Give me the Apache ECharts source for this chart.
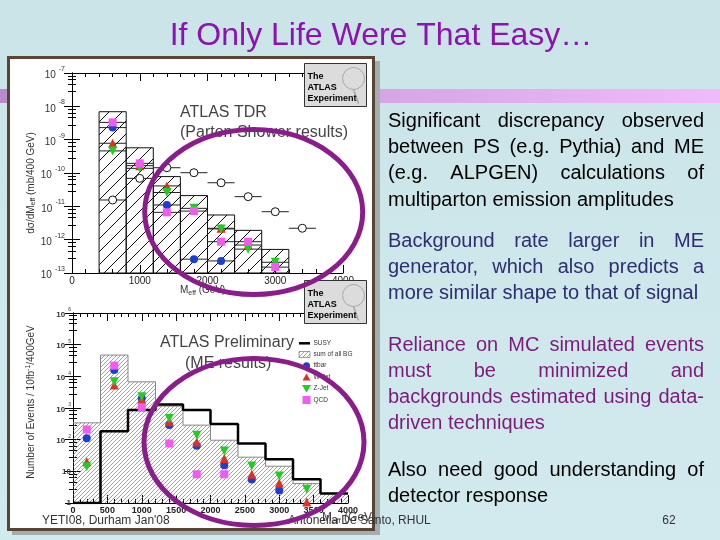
<!DOCTYPE html>
<html>
<head>
<meta charset="utf-8">
<script src="https://cdn.jsdelivr.net/npm/echarts@6/dist/echarts.min.js"></script>
<style>
  html, body { margin: 0; padding: 0; background: #cce6ea; }
  #chart { width: 720px; height: 540px; }
</style>
</head>
<body>
<div id="chart"></div>
<script>
// ---- upper panel: ATLAS TDR (parton shower) ----
const tdrEdges = [400, 800, 1200, 1600, 2000, 2400, 2800, 3200];
const tdrSumBG = [6.9e-9, 5.7e-10, 7.8e-11, 2.1e-11, 5.5e-12, 1.9e-12, 5.1e-13];
const tdrMass = [600, 1000, 1400, 1800, 2200, 2600, 3000];
const tdrTtbar = [2.3e-9, null, 1.1e-11, 2.6e-13, 2.3e-13, null, null];
const tdrWjet = [7.8e-10, 1.66e-10, 4.1e-11, null, 2.2e-12, 6.9e-13, null];
const tdrZjet = [4.6e-10, 1.38e-10, 2.6e-11, 8.7e-12, 2.1e-12, 5.2e-13, 2.1e-13];
const tdrQcd = [3.3e-9, 1.95e-10, 6.6e-12, 7.2e-12, 8.7e-13, 8.7e-13, 1.5e-13];
const tdrSusyMass = [600, 1000, 1400, 1800, 2200, 2600, 3000, 3400];
const tdrSusy = [1.55e-11, 6.9e-11, 1.44e-10, 1.02e-10, 5.1e-11, 1.95e-11, 6.9e-12, 2.2e-12];

// ---- lower panel: ATLAS preliminary (matrix element) ----
const meEdges = [0, 400, 800, 1200, 1600, 2000, 2400, 2800, 3200, 3600, 4000];
const meSumBG = [340, 47000, 6700, 1150, 288, 96, 28, 14.5, 4.1, 2.0];
const meSusy = [1, 186, 860, 1300, 860, 310, 76, 24, 5.6, 2.0];
const meMass = [200, 600, 1000, 1400, 1800, 2200, 2600, 3000, 3400];
const meTtbar = [110, 15800, 2000, 288, 64, 15.6, 5.5, 2.5, null];
const meWjet = [20, 5300, 1900, 365, 85, 25.5, 8.1, 4.3, 1.07];
const meZjet = [14, 6700, 2250, 470, 138, 44, 14.8, 7.1, 2.7];
const meQcd = [210, 21800, 1040, 76, 8.1, 8.1, null, null, null];
const meLegend = ['SUSY', 'sum of all BG', 'ttbar', 'W-Jet', 'Z-Jet', 'QCD'];

const C_TT = '#1c3ed2', C_W = '#de3220', C_Z = '#22cc22', C_QCD = '#f25af2';
const FONT = 'Liberation Sans';

function hatch(step, color, width) {
  const c = document.createElement('canvas');
  c.width = c.height = step;
  const g = c.getContext('2d');
  g.strokeStyle = color;
  g.lineWidth = width;
  g.beginPath();
  for (let k = -1; k <= 1; k++) {
    g.moveTo(k * step, step);
    g.lineTo(k * step + step, 0);
  }
  g.stroke();
  return { image: c, repeat: 'repeat' };
}
const hatchTop = hatch(13, '#111', 1);
const hatchBottom = hatch(4, '#7a7a7a', 0.7);

function pairs(xs, ys) {
  const out = [];
  xs.forEach((x, i) => { if (ys[i] != null) out.push([x, ys[i]]); });
  return out;
}
function bins(edges, vals) {
  return vals.map((v, i) => [edges[i], edges[i + 1], v]);
}
function steps(edges, vals) {
  const out = vals.map((v, i) => [edges[i], v]);
  out.push([edges[edges.length - 1], vals[vals.length - 1]]);
  return out;
}
function histItem(fill, stroke, floor) {
  return function (params, api) {
    const a = api.coord([api.value(0), api.value(2)]);
    const b = api.coord([api.value(1), floor]);
    return {
      type: 'rect',
      shape: { x: a[0], y: a[1], width: b[0] - a[0], height: b[1] - a[1] },
      style: { fill: fill, stroke: stroke || null, lineWidth: stroke ? 1 : 0 }
    };
  };
}
const halfBin = (tdrEdges[1] - tdrEdges[0]) / 2;
function xErr(withCircle) {
  return function (params, api) {
    const x = api.value(0), y = api.value(1);
    const l = api.coord([x - halfBin, y]), r = api.coord([x + halfBin, y]), c = api.coord([x, y]);
    const kids = [{ type: 'line', shape: { x1: l[0], y1: l[1], x2: r[0], y2: r[1] }, style: { stroke: '#222', lineWidth: 1 } }];
    if (withCircle) kids.push({ type: 'circle', shape: { cx: c[0], cy: c[1], r: 4 }, style: { fill: '#fff', stroke: '#111', lineWidth: 1 } });
    return { type: 'group', children: kids };
  };
}

const supStyle = (size, pad) => ({ fontSize: size, color: '#333', fontFamily: FONT, padding: [0, 0, pad, 3], verticalAlign: 'top' });

function xAxis(grid, pos, interval, labels, fs) {
  return {
    type: 'value', gridIndex: grid, position: pos, min: 0, max: 4000, interval: interval,
    axisLine: { show: true, onZero: false, lineStyle: { color: '#000', width: 1 } },
    axisTick: { show: true, inside: true, length: 8, lineStyle: { color: '#000' } },
    minorTick: { show: true, splitNumber: 5, length: 4, lineStyle: { color: '#000' } },
    axisLabel: { show: labels, fontSize: fs, color: '#222', fontFamily: FONT, margin: 3, fontWeight: grid ? 'bold' : 'normal',
      formatter: v => String(v) },
    splitLine: { show: false }
  };
}
function yAxis(grid, pos, min, max, labels) {
  const top = grid === 0;
  return {
    type: 'log', logBase: 10, gridIndex: grid, position: pos, min: min, max: max,
    axisLine: { show: true, lineStyle: { color: '#000', width: 1 } },
    axisTick: { show: true, inside: true, length: 8, lineStyle: { color: '#000' } },
    minorTick: { show: true, splitNumber: 5, length: 4, lineStyle: { color: '#000' } },
    axisLabel: {
      show: labels, showMinLabel: true, showMaxLabel: true, margin: top ? 7 : 2,
      formatter: function (v) {
        const e = Math.round(Math.log10(v));
        if (!top && e === 0) return '{b|1}';
        if (!top && e === 1) return '{b|10}';
        return '{b|10}{e|' + e + '}';
      },
      rich: {
        b: { fontSize: top ? 10 : 8, color: '#333', fontFamily: FONT, fontWeight: top ? 'normal' : 'bold', verticalAlign: 'bottom' },
        e: supStyle(top ? 7 : 5, top ? 8 : 6)
      }
    },
    splitLine: { show: false }
  };
}

function scatter(name, data, xi, color, symbol, size, rot) {
  return {
    name: name, type: 'scatter', xAxisIndex: xi, yAxisIndex: xi, data: data,
    symbol: symbol, symbolSize: size, symbolRotate: rot || 0,
    itemStyle: { color: color, opacity: 1 }, z: 5
  };
}

// right-hand text, justified line by line
const paragraphs = [
  { color: '#000000', top: 121.7, lines: ['Significant discrepancy observed', 'between PS (e.g. Pythia) and ME', '(e.g. ALPGEN) calculations of', 'multiparton emission amplitudes'] },
  { color: '#2c2e70', top: 241.7, lines: ['Background rate larger in ME', 'generator, which also predicts a', 'more similar shape to that of signal'] },
  { color: '#7c1a7c', top: 345, lines: ['Reliance on MC simulated events', 'must be minimized and', 'backgrounds estimated using data-', 'driven techniques'] },
  { color: '#000000', top: 470, lines: ['Also need good understanding of', 'detector response'] }
];
const measure = document.createElement('canvas').getContext('2d');
measure.font = '20px "' + FONT + '"';
const textEls = [];
const TX0 = 388, TX1 = 704;
paragraphs.forEach(p => {
  p.lines.forEach((line, li) => {
    const y = p.top + li * 26.1;
    const last = li === p.lines.length - 1;
    if (last) {
      textEls.push({ type: 'text', x: TX0, y: y, z: 20, style: { text: line, fill: p.color, fontSize: 20, fontFamily: FONT, verticalAlign: 'middle' } });
      return;
    }
    const words = line.split(' ');
    const widths = words.map(w => measure.measureText(w).width);
    const total = widths.reduce((a, b) => a + b, 0);
    const gap = (TX1 - TX0 - total) / (words.length - 1);
    let x = TX0;
    words.forEach((w, k) => {
      textEls.push({ type: 'text', x: x, y: y, z: 20, style: { text: w, fill: p.color, fontSize: 20, fontFamily: FONT, verticalAlign: 'middle' } });
      x += widths[k] + gap;
    });
  });
});

function logo(x, y) {
  return [
    { type: 'rect', x: x, y: y, z: 30, shape: { width: 62, height: 43 }, style: { fill: '#dcdcdc', stroke: '#333', lineWidth: 1 } },
    { type: 'circle', z: 30, shape: { cx: x + 49, cy: y + 15, r: 11 }, style: { fill: 'none', stroke: '#a8a8a8', lineWidth: 1 } },
    { type: 'line', z: 30, shape: { x1: x + 49, y1: y + 26, x2: x + 54, y2: y + 40 }, style: { stroke: '#a8a8a8', lineWidth: 1.5 } },
    { type: 'text', x: x + 3, y: y + 13, z: 31, style: { text: 'The', fill: '#000', fontSize: 9, fontWeight: 'bold', fontFamily: FONT, verticalAlign: 'middle' } },
    { type: 'text', x: x + 3, y: y + 24.5, z: 31, style: { text: 'ATLAS', fill: '#000', fontSize: 9, fontWeight: 'bold', fontFamily: FONT, verticalAlign: 'middle' } },
    { type: 'text', x: x + 3, y: y + 35.5, z: 31, style: { text: 'Experiment', fill: '#000', fontSize: 9, fontWeight: 'bold', fontFamily: FONT, verticalAlign: 'middle' } }
  ];
}

const legendMarks = [
  { type: 'line', z: 25, shape: { x1: 299, y1: 343.3, x2: 310, y2: 343.3 }, style: { stroke: '#000', lineWidth: 2.5 } },
  { type: 'rect', z: 25, shape: { x: 299, y: 351.5, width: 11, height: 6 }, style: { fill: hatchBottom, stroke: '#777', lineWidth: 0.7 } },
  { type: 'circle', z: 25, shape: { cx: 306.5, cy: 365.7, r: 3.5 }, style: { fill: C_TT } },
  { type: 'polygon', z: 25, shape: { points: [[306.5, 373.5], [310.5, 380.5], [302.5, 380.5]] }, style: { fill: C_W } },
  { type: 'polygon', z: 25, shape: { points: [[302, 385], [311, 385], [306.5, 392.5]] }, style: { fill: C_Z } },
  { type: 'rect', z: 25, shape: { x: 302.5, y: 396, width: 8, height: 8 }, style: { fill: C_QCD } }
];
const legendY = [343.3, 354.4, 365.7, 377.3, 388.3, 400];
meLegend.forEach((t, i) => {
  legendMarks.push({ type: 'text', x: 313.5, y: legendY[i], z: 25, style: { text: t, fill: '#333', fontSize: 6.5, fontFamily: FONT, verticalAlign: 'middle' } });
});

const option = {
  animation: false,
  backgroundColor: '#cce6ea',
  grid: [
    { left: 72, top: 73, width: 271, height: 200 },
    { left: 73, top: 313, width: 275, height: 190 }
  ],
  xAxis: [xAxis(0, 'bottom', 1000, true, 10), xAxis(0, 'top', 1000, false, 10),
          xAxis(1, 'bottom', 500, true, 9), xAxis(1, 'top', 500, false, 9)],
  yAxis: [yAxis(0, 'left', 1e-13, 1e-7, true), yAxis(0, 'right', 1e-13, 1e-7, false),
          yAxis(1, 'left', 1, 1e6, true), yAxis(1, 'right', 1, 1e6, false)],
  series: [
    { name: 'TDR sum of BG', type: 'custom', xAxisIndex: 0, yAxisIndex: 0, renderItem: histItem(hatchTop, '#111', 1e-13), data: bins(tdrEdges, tdrSumBG), z: 2 },
    { name: 'TDR bins', type: 'custom', xAxisIndex: 0, yAxisIndex: 0, renderItem: xErr(false),
      data: [].concat(pairs(tdrMass, tdrTtbar), pairs(tdrMass, tdrWjet), pairs(tdrMass, tdrZjet), pairs(tdrMass, tdrQcd)), z: 3 },
    { name: 'TDR SUSY', type: 'custom', xAxisIndex: 0, yAxisIndex: 0, renderItem: xErr(true), data: pairs(tdrSusyMass, tdrSusy), z: 4 },
    scatter('ttbar', pairs(tdrMass, tdrTtbar), 0, C_TT, 'circle', 8),
    scatter('W-Jet', pairs(tdrMass, tdrWjet), 0, C_W, 'triangle', 9),
    scatter('Z-Jet', pairs(tdrMass, tdrZjet), 0, C_Z, 'triangle', 9, 180),
    scatter('QCD', pairs(tdrMass, tdrQcd), 0, C_QCD, 'rect', 8),

    { name: 'sum of all BG', type: 'custom', xAxisIndex: 2, yAxisIndex: 2, renderItem: histItem(hatchBottom, null, 1), data: bins(meEdges, meSumBG), z: 2 },
    { name: 'BG outline', type: 'line', xAxisIndex: 2, yAxisIndex: 2, step: 'end', data: steps(meEdges, meSumBG), symbol: 'none', lineStyle: { color: '#888', width: 1 }, z: 3 },
    { name: 'SUSY', type: 'line', xAxisIndex: 2, yAxisIndex: 2, step: 'end', data: steps(meEdges, meSusy), symbol: 'none', lineStyle: { color: '#000', width: 2.5 }, z: 4 },
    scatter('ttbar', pairs(meMass, meTtbar), 2, C_TT, 'circle', 8),
    scatter('W-Jet', pairs(meMass, meWjet), 2, C_W, 'triangle', 9),
    scatter('Z-Jet', pairs(meMass, meZjet), 2, C_Z, 'triangle', 9, 180),
    scatter('QCD', pairs(meMass, meQcd), 2, C_QCD, 'rect', 8)
  ],
  graphic: {
    elements: [
      // slide background
      { type: 'rect', z: -20, shape: { x: 0, y: 0, width: 720, height: 540 },
        style: { fill: { type: 'linear', x: 0, y: 0, x2: 0, y2: 1, colorStops: [{ offset: 0, color: '#cae4e8' }, { offset: 1, color: '#d2eaed' }] } } },
      { type: 'rect', z: -19, shape: { x: 0, y: 89, width: 720, height: 14 },
        style: { fill: { type: 'linear', x: 0, y: 0, x2: 1, y2: 0, colorStops: [{ offset: 0, color: '#b68ccb' }, { offset: 1, color: '#f1bbfb' }] } } },
      // picture frame
      { type: 'rect', z: -18, shape: { x: 12, y: 61, width: 368, height: 474 }, style: { fill: '#a2aeb0' } },
      { type: 'rect', z: -17, shape: { x: 8.5, y: 57.5, width: 365, height: 472 }, style: { fill: '#ffffff', stroke: '#5a4535', lineWidth: 3 } },
      // title
      { type: 'text', x: 381, y: 36, z: 20, style: { text: 'If Only Life Were That Easy…', fill: '#8c12b5', fontSize: 32, fontFamily: FONT, align: 'center', verticalAlign: 'middle' } },
      // panel texts
      { type: 'text', x: 180, y: 112.3, z: 20, style: { text: 'ATLAS TDR', fill: '#444', fontSize: 16, fontFamily: FONT, verticalAlign: 'middle' } },
      { type: 'text', x: 180, y: 132.7, z: 20, style: { text: '(Parton Shower results)', fill: '#444', fontSize: 16, fontFamily: FONT, verticalAlign: 'middle' } },
      { type: 'text', x: 160, y: 342.7, z: 20, style: { text: 'ATLAS Preliminary', fill: '#444', fontSize: 16, fontFamily: FONT, verticalAlign: 'middle' } },
      { type: 'text', x: 185, y: 363.3, z: 20, style: { text: '(ME results)', fill: '#444', fontSize: 16, fontFamily: FONT, verticalAlign: 'middle' } },
      { type: 'text', x: 31, y: 183, z: 20, rotation: Math.PI / 2,
        style: { text: 'dσ/dM{s|eff} (mb/400 GeV)', fill: '#333', fontSize: 10, fontFamily: FONT, align: 'center', verticalAlign: 'middle',
          rich: { s: { fontSize: 7, fontFamily: FONT, fill: '#333', padding: [5, 0, 0, 0] } } } },
      { type: 'text', x: 31, y: 402, z: 20, rotation: Math.PI / 2,
        style: { text: 'Number of Events / 10fb{s|-1}/400GeV', fill: '#333', fontSize: 10, fontFamily: FONT, align: 'center', verticalAlign: 'middle',
          rich: { s: { fontSize: 7, fontFamily: FONT, fill: '#333', padding: [0, 0, 6, 0] } } } },
      { type: 'text', x: 180, y: 290.7, z: 20, style: { text: 'M{s|eff} (GeV)', fill: '#333', fontSize: 10, fontFamily: FONT, verticalAlign: 'middle',
          rich: { s: { fontSize: 7, fontFamily: FONT, fill: '#333', padding: [5, 0, 0, 0] } } } },
      { type: 'text', x: 322, y: 518, z: 20, style: { text: 'M{s|eff} (GeV)', fill: '#444', fontSize: 12, fontFamily: FONT, verticalAlign: 'middle',
          rich: { s: { fontSize: 8, fontFamily: FONT, fill: '#444', padding: [6, 0, 0, 0] } } } },
      ...logo(304.5, 63.5),
      ...logo(304.5, 280.5),
      ...legendMarks,
      ...textEls,
      // footer
      { type: 'text', x: 42, y: 521, z: 40, style: { text: "YETI08, Durham Jan'08", fill: '#333', fontSize: 12, fontFamily: FONT, verticalAlign: 'middle' } },
      { type: 'text', x: 288, y: 521, z: 40, style: { text: 'Antonella De Santo, RHUL', fill: '#333', fontSize: 12, fontFamily: FONT, verticalAlign: 'middle' } },
      { type: 'text', x: 669, y: 521, z: 40, style: { text: '62', fill: '#333', fontSize: 12, fontFamily: FONT, align: 'center', verticalAlign: 'middle' } },
      // highlight ellipses
      { type: 'ellipse', z: 50, shape: { cx: 253.7, cy: 212, rx: 109, ry: 82.5 }, style: { fill: 'none', stroke: '#8b1c8c', lineWidth: 5 } },
      { type: 'ellipse', z: 50, shape: { cx: 254, cy: 442, rx: 110, ry: 83.5 }, style: { fill: 'none', stroke: '#8b1c8c', lineWidth: 5 } }
    ]
  }
};

const chart = echarts.init(document.getElementById('chart'));
chart.setOption(option);
</script>
</body>
</html>
